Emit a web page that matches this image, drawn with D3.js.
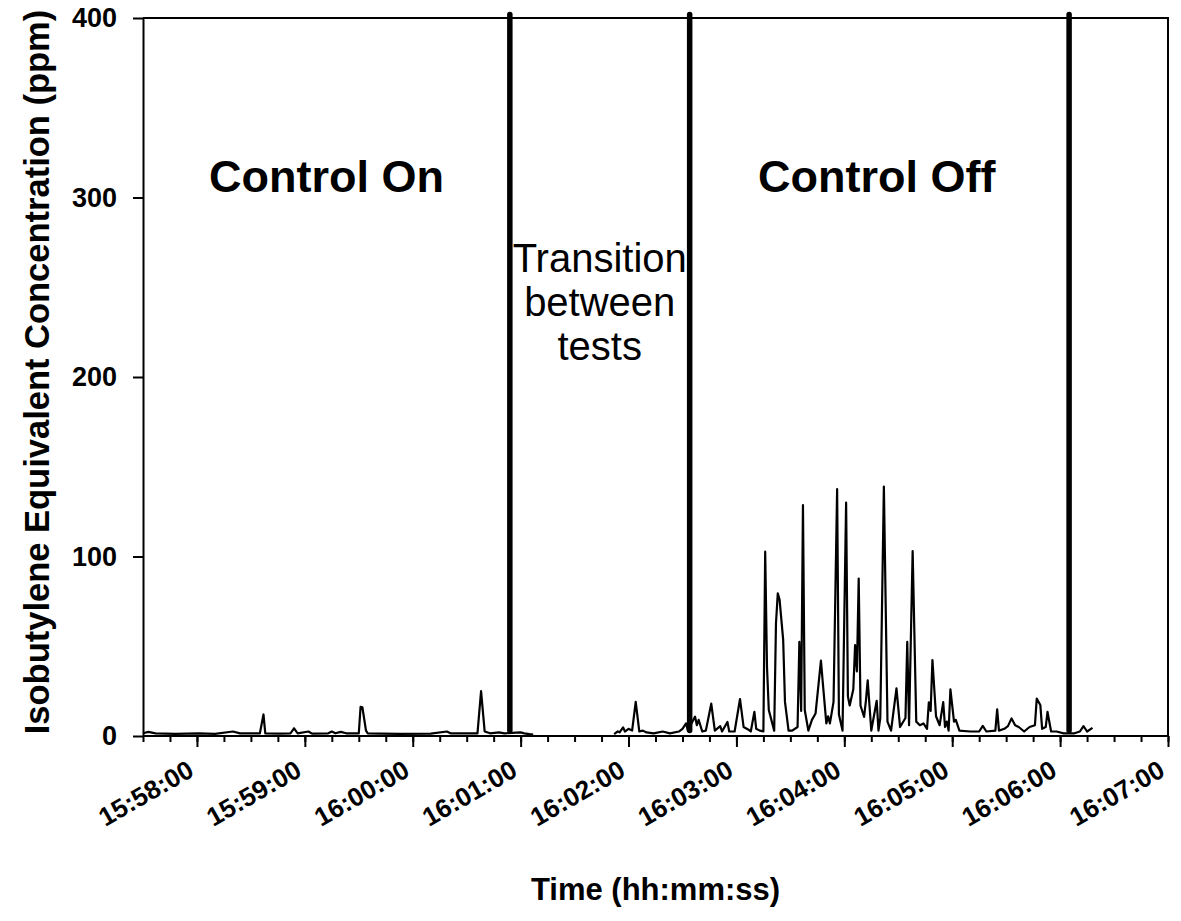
<!DOCTYPE html>
<html><head><meta charset="utf-8">
<script src="https://cdn.jsdelivr.net/npm/d3@7"></script>
<style>
html,body{margin:0;padding:0;background:#fff;}
svg{display:block;font-family:"Liberation Sans",Arial,sans-serif;}
</style></head>
<body><svg id="chart" width="1181" height="921"></svg>
<script>
// ---- data (time hh:mm:ss, concentration ppm) ----
const onTimes = ["15:57:30","15:57:33","15:57:37","15:57:48","15:58:01","15:58:10","15:58:20","15:58:24","15:58:35","15:58:37","15:58:38","15:58:46","15:58:52","15:58:54","15:58:56","15:59:02","15:59:04","15:59:13","15:59:15","15:59:17","15:59:20","15:59:23","15:59:30","15:59:31","15:59:32","15:59:34","15:59:35","15:59:42","15:59:53","16:00:10","16:00:19","16:00:21","16:00:32","16:00:36","16:00:38","16:00:40","16:00:43","16:00:48","16:00:51","16:01:00","16:01:02","16:01:05","16:01:07"];
const onValues = [1.5,2.3,1.5,1.2,1.5,1.2,2.5,1.5,1.5,12,1.5,1.3,1.5,4.3,1.5,2.5,1.3,1.5,2.5,1.5,2.3,1.5,1.5,16.3,16,3,1.5,1.3,1.2,1.3,2.5,1.5,1.5,1.5,25,2.5,1.5,2,1.5,2,1.5,1,0.8];

const offTimes = ["16:01:52","16:01:54","16:01:55","16:01:57","16:01:58","16:02:00","16:02:02","16:02:04","16:02:06","16:02:08","16:02:10","16:02:14","16:02:19","16:02:23","16:02:28","16:02:30","16:02:32","16:02:33","16:02:37","16:02:38","16:02:39","16:02:41","16:02:43","16:02:46","16:02:48","16:02:51","16:02:52","16:02:55","16:02:56","16:02:59","16:03:02","16:03:04","16:03:07","16:03:08","16:03:10","16:03:11","16:03:13","16:03:15","16:03:16","16:03:17","16:03:18","16:03:21","16:03:22","16:03:23","16:03:24","16:03:26","16:03:27","16:03:29","16:03:31","16:03:34","16:03:35","16:03:36","16:03:37","16:03:38","16:03:40","16:03:42","16:03:44","16:03:47","16:03:48","16:03:50","16:03:51","16:03:52","16:03:54","16:03:56","16:03:57","16:03:59","16:04:01","16:04:02","16:04:03","16:04:05","16:04:06","16:04:07","16:04:08","16:04:09","16:04:11","16:04:12","16:04:13","16:04:15","16:04:18","16:04:19","16:04:20","16:04:22","16:04:24","16:04:26","16:04:29","16:04:31","16:04:34","16:04:35","16:04:36","16:04:38","16:04:40","16:04:42","16:04:44","16:04:46","16:04:47","16:04:48","16:04:49","16:04:51","16:04:53","16:04:55","16:04:56","16:04:57","16:04:58","16:04:59","16:05:01","16:05:02","16:05:04","16:05:10","16:05:15","16:05:17","16:05:19","16:05:24","16:05:25","16:05:26","16:05:29","16:05:31","16:05:33","16:05:35","16:05:37","16:05:40","16:05:43","16:05:46","16:05:47","16:05:49","16:05:50","16:05:52","16:05:53","16:05:55","16:05:58","16:06:02","16:06:08","16:06:11","16:06:13","16:06:15","16:06:18"];
const offValues = [1,2.6,2,4.8,2.5,4,3,19,2.5,3,2,1.5,2.5,1.5,2.5,4,7,3,10.8,6,9,2.5,3,18,3,5.5,2.5,7.8,2.5,2.5,20.6,5,3.3,2.5,13.5,4,3,2.6,102.7,38.6,14.5,3,62.8,79.5,76,53.5,19,3,3,5,52.5,14,128.7,14.5,3,9,12.5,42,30,7,11,7,19,137.5,12,3,130,22,17,26,50.7,36,87.7,17,10.6,19.6,31,3,19.6,3,10,139,8,3,26.5,5,10,52.5,6,103,8,6,7,4,18.8,14,42.3,11,6,18.9,5,8,3,26,8,9,3,2.5,2.5,5.6,2.5,3,14.9,3,4,5.5,9.8,6,5,2.5,5,6,20.8,17.3,4,5,13.4,2.5,2.5,1.5,1.5,2.5,5.5,2.5,4.5];

const markerTimes = ["16:00:54","16:02:34","16:06:05"];
const markerRange = [402, 3];

const xDomain = ["15:57:30","16:07:00"];
const yDomain = [0, 400];
const yTicks = [0,100,200,300,400];

const phaseLabels = [
  {text:"Control On", t:"15:59:12", v:303},
  {text:"Control Off", t:"16:04:18", v:303}
];
const transitionLines = ["Transition","between","tests"];
const transitionTime = "16:01:44";

// ---- layout ----
const svg = d3.select("#chart");
const L = 143, R = 1168, T = 18, B = 736;
const parse = s => d3.timeParse("%Y-%m-%d %H:%M:%S")("2000-01-01 " + s);

const x = d3.scaleTime().domain(xDomain.map(parse)).range([L, R]);
const y = d3.scaleLinear().domain(yDomain).range([B, T]);

const font = '"Liberation Sans",Arial,sans-serif';

// frame (top + right)
svg.append("path").attr("d", `M${L},${T}H${R}V${B}`).attr("fill","none").attr("stroke","#000").attr("stroke-width",2);

// x minor ticks
const xMinor = svg.append("g").attr("transform",`translate(0,${B})`)
  .call(d3.axisBottom(x).ticks(d3.timeSecond.every(15)).tickSize(6).tickFormat(""));
xMinor.select(".domain").remove();
xMinor.selectAll("line").attr("stroke","#000").attr("stroke-width",2);

// x major axis
const xAxis = svg.append("g").attr("transform",`translate(0,${B})`)
  .call(d3.axisBottom(x).ticks(d3.timeMinute.every(1)).tickSize(11).tickSizeOuter(0).tickFormat(d3.timeFormat("%H:%M:%S")));
xAxis.select(".domain").attr("stroke-width",2).attr("d",`M${L},0H${R}`);
xAxis.selectAll("line").attr("stroke","#000").attr("stroke-width",2);
xAxis.selectAll("text")
  .attr("font-family",font).attr("font-size",26).attr("font-weight","bold").attr("fill","#000")
  .attr("text-anchor","end").attr("x",0).attr("y",0).attr("dy",0)
  .attr("transform","translate(-2,39) rotate(-30)");

// y axis
const yAxis = svg.append("g").attr("transform",`translate(${L},0)`)
  .call(d3.axisLeft(y).tickValues(yTicks).tickSize(10).tickSizeOuter(0).tickPadding(16));
yAxis.select(".domain").attr("stroke-width",2);
yAxis.selectAll("line").attr("stroke","#000").attr("stroke-width",2);
yAxis.selectAll("text").attr("font-family",font).attr("font-size",27).attr("font-weight","bold").attr("fill","#000");

// data lines
const line = d3.line().x(d => x(parse(d[0]))).y(d => y(d[1]));
[[onTimes,onValues],[offTimes,offValues]].forEach(([ts,vs]) => {
  svg.append("path").datum(ts.map((t,i)=>[t,vs[i]]))
    .attr("d", line).attr("fill","none").attr("stroke","#000").attr("stroke-width",2.2).attr("stroke-linejoin","round");
});

// marker lines
markerTimes.forEach(t => {
  svg.append("line")
    .attr("x1", x(parse(t))).attr("x2", x(parse(t)))
    .attr("y1", y(markerRange[0])).attr("y2", y(markerRange[1]))
    .attr("stroke","#000").attr("stroke-width",5.5).attr("stroke-linecap","round");
});

// phase labels
phaseLabels.forEach(p => {
  svg.append("text").attr("x", x(parse(p.t))).attr("y", y(p.v))
    .attr("text-anchor","middle").attr("font-family",font).attr("font-size",45).attr("font-weight","bold")
    .text(p.text);
});
const tt = svg.append("text").attr("text-anchor","middle").attr("font-family",font).attr("font-size",40);
transitionLines.forEach((s,i) => {
  tt.append("tspan").attr("x", x(parse(transitionTime))).attr("y", 272 + i*44).text(s);
});

// axis titles
svg.append("text").attr("x",(L+R)/2).attr("y",900).attr("text-anchor","middle")
  .attr("font-family",font).attr("font-size",31).attr("font-weight","bold").text("Time (hh:mm:ss)");
svg.append("text").attr("transform",`translate(49,${(T+B)/2 - 5}) rotate(-90)`).attr("text-anchor","middle")
  .attr("font-family",font).attr("font-size",34.5).attr("font-weight","bold")
  .text("Isobutylene Equivalent Concentration (ppm)");
</script>
</body></html>
